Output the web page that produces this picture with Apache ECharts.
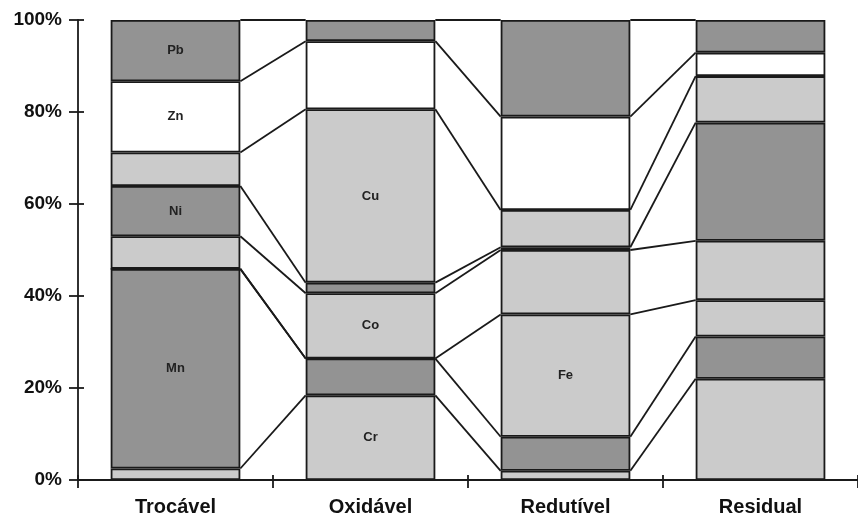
<!DOCTYPE html>
<html>
<head>
<meta charset="utf-8">
<script src="https://cdn.jsdelivr.net/npm/echarts@6/dist/echarts.min.js"></script>
<style>
html, body { margin: 0; padding: 0; background: #fff; }
#chart { width: 858px; height: 522px; }
</style>
</head>
<body>
<div id="chart"></div>
<script>
// fracções da extracção sequencial (% do total de cada fracção)
const fractions = ['Trocável', 'Oxidável', 'Redutível', 'Residual']
const metals = ['Cr', 'Mn', 'Fe', 'Co', 'Ni', 'Cu', 'Zn', 'Pb']

const cr = [2.5, 18.4, 2.0, 22.0]
const mn = [43.4, 8.0, 7.4, 9.2]
const fe = [0, 0, 26.6, 7.9]
const co = [7.1, 14.2, 14.0, 12.9]
const ni = [10.9, 2.3, 0.6, 25.7]
const cu = [7.3, 37.7, 8.1, 10.1]
const zn = [15.5, 14.8, 20.3, 5.1]
const pb = [13.3, 4.6, 21.0, 7.1]

// barra onde aparece o nome do metal
const labelAt = [1, 0, 2, 1, 0, 1, 0, 0]

const values = [cr, mn, fe, co, ni, cu, zn, pb]

const LIGHT = '#cbcbcb'
const DARK = '#939393'
const fills = [LIGHT, DARK, LIGHT, LIGHT, DARK, LIGHT, '#ffffff', DARK]
const INK = '#1a1a1a'
const LW = 1.8
const BAR_W = 0.665

// limites acumulados, para as linhas entre barras
const cum = fractions.map((f, i) => {
  let s = 0
  return values.map(v => (s += v[i]))
})
const links = []
for (let i = 0; i < fractions.length - 1; i++) {
  for (let k = 0; k < metals.length; k++) {
    links.push([i, cum[i][k], cum[i + 1][k]])
  }
}

const barSeries = metals.map((m, k) => ({
  name: m,
  type: 'bar',
  stack: 'total',
  barWidth: (BAR_W * 100) + '%',
  xAxisIndex: 0,
  yAxisIndex: 0,
  itemStyle: { color: fills[k], borderColor: INK, borderWidth: LW },
  label: {
    show: false,
    position: 'inside',
    color: '#222',
    fontFamily: 'Liberation Sans, Arial, sans-serif',
    fontWeight: 'bold',
    fontSize: 13
  },
  data: values[k].map((v, i) => i === labelAt[k]
    ? { value: v, label: { show: true, formatter: m } }
    : v)
}))

const chart = echarts.init(document.getElementById('chart'))
chart.setOption({
  animation: false,
  grid: { left: 78, right: 0, top: 20, bottom: 42 },
  xAxis: [{
    type: 'category',
    data: fractions,
    position: 'bottom',
    axisLine: { lineStyle: { color: INK, width: LW } },
    axisTick: { show: true, length: 8, lineStyle: { color: INK, width: LW } },
    axisLabel: {
      color: '#111',
      fontFamily: 'Liberation Sans, Arial, sans-serif',
      fontWeight: 'bold',
      fontSize: 20,
      margin: 17
    }
  }, {
    type: 'category',
    data: fractions,
    position: 'bottom',
    axisLine: { show: false },
    axisTick: { show: true, inside: true, length: 5, lineStyle: { color: INK, width: LW } },
    axisLabel: { show: false }
  }],
  yAxis: [{
    type: 'value',
    min: 0,
    max: 100,
    interval: 20,
    position: 'left',
    axisLine: { show: true, lineStyle: { color: INK, width: LW } },
    axisTick: { show: true, length: 9, lineStyle: { color: INK, width: LW } },
    axisLabel: {
      formatter: '{value}%',
      color: '#111',
      fontFamily: 'Liberation Sans, Arial, sans-serif',
      fontWeight: 'bold',
      fontSize: 19,
      margin: 16
    },
    splitLine: { show: false }
  }, {
    type: 'value',
    min: 0,
    max: 100,
    interval: 20,
    position: 'left',
    axisLine: { show: false },
    axisTick: { show: true, inside: true, length: 6, lineStyle: { color: INK, width: LW } },
    axisLabel: { show: false },
    splitLine: { show: false }
  }],
  series: barSeries.concat([{
    type: 'custom',
    xAxisIndex: 0,
    yAxisIndex: 0,
    z: 5,
    silent: true,
    encode: { x: 0, y: [1, 2] },
    renderItem(params, api) {
      const i = api.value(0)
      const a = api.coord([i, api.value(1)])
      const b = api.coord([i + 1, api.value(2)])
      const half = api.size([1, 0])[0] * BAR_W / 2
      return {
        type: 'line',
        shape: { x1: a[0] + half, y1: a[1], x2: b[0] - half, y2: b[1] },
        style: { stroke: INK, lineWidth: LW }
      }
    },
    data: links
  }])
})
</script>
</body>
</html>
